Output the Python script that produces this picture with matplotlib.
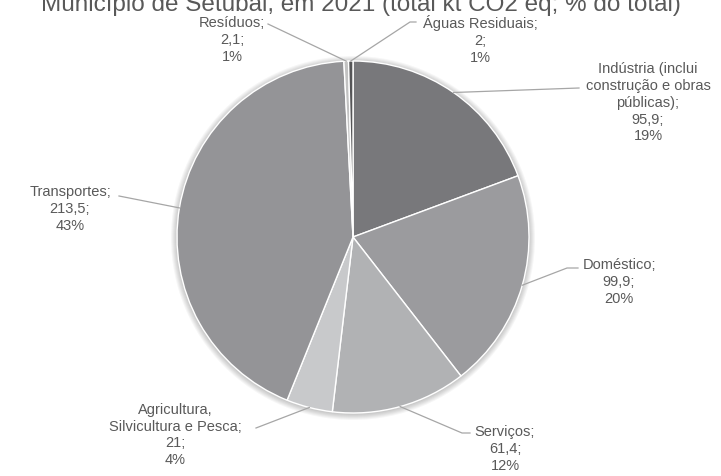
import numpy as np
import matplotlib
matplotlib.use('Agg')
from matplotlib import pyplot as plt
from matplotlib.patches import Circle

plt.rcParams['font.family'] = ['Liberation Sans', 'DejaVu Sans']

# data (kt CO2 eq)
sectors = ['Indústria (inclui\nconstrução e obras\npúblicas)', 'Doméstico', 'Serviços',
           'Agricultura,\nSilvicultura e Pesca', 'Transportes', 'Resíduos', 'Águas Residuais']
values = [95.9, 99.9, 61.4, 21, 213.5, 2.1, 2]
value_labels = ['95,9', '99,9', '61,4', '21', '213,5', '2,1', '2']
colors = ['#78787b', '#9b9b9e', '#b1b2b4', '#c8c9cb', '#949497', '#c2c2c2', '#555557']

# label text centres (pixels from top-left) and leader line ends
label_pos = [(648, 103), (619, 282), (505, 449), (175, 435), (70, 209), (232, 40), (480, 40)]
line_end = [(579, 88), (578, 268), (470, 433), (256, 428), (119, 196), (268, 24), (416, 22)]
elbow = [None, (567, 268), (462, 433), None, None, None, (410, 22)]

W, H = 721, 476
fig = plt.figure(figsize=(W / 100, H / 100), dpi=100)
ax = fig.add_axes([0, 0, 1, 1])
ax.set_xlim(0, W)
ax.set_ylim(0, H)
ax.axis('off')

cx, cy, r = 353, H - 237, 176

# soft shadow
for i in range(1, 7):
    ax.add_patch(Circle((cx, cy - 1), r + i, color='black', alpha=0.035, lw=0, zorder=0))

wedges, _ = ax.pie(values, colors=colors, startangle=90, counterclock=False,
                   center=(cx, cy), radius=r, frame=True,
                   wedgeprops={'edgecolor': 'white', 'linewidth': 1})
ax.set_xlim(0, W)
ax.set_ylim(0, H)
ax.set_aspect('equal')
ax.axis('off')

total = sum(values)
for w, name, v, val, (lx, ly), (ex, ey), el in zip(wedges, sectors, values, value_labels,
                                                   label_pos, line_end, elbow):
    pct = round(v / total * 100)
    if pct < 1:
        pct = 1
    ax.text(lx, H - ly, f'{name};\n{val};\n{pct}%', ha='center', va='center',
            fontsize=10.5, color='#595959', linespacing=1.25)
    mid = np.deg2rad((w.theta1 + w.theta2) / 2)
    px, py = cx + r * np.cos(mid), cy + r * np.sin(mid)
    xs, ys = [px], [py]
    if el is not None:
        xs.append(el[0])
        ys.append(H - el[1])
    xs.append(ex)
    ys.append(H - ey)
    ax.plot(xs, ys, color='#a6a6a6', lw=0.9, zorder=5)

fig.text(0.5, 1 - 11 / H, 'Município de Setúbal, em 2021 (total kt CO2 eq; % do total)',
         ha='center', va='baseline', fontsize=17.5, color='#595959')

fig.savefig('out.png', dpi=100)
